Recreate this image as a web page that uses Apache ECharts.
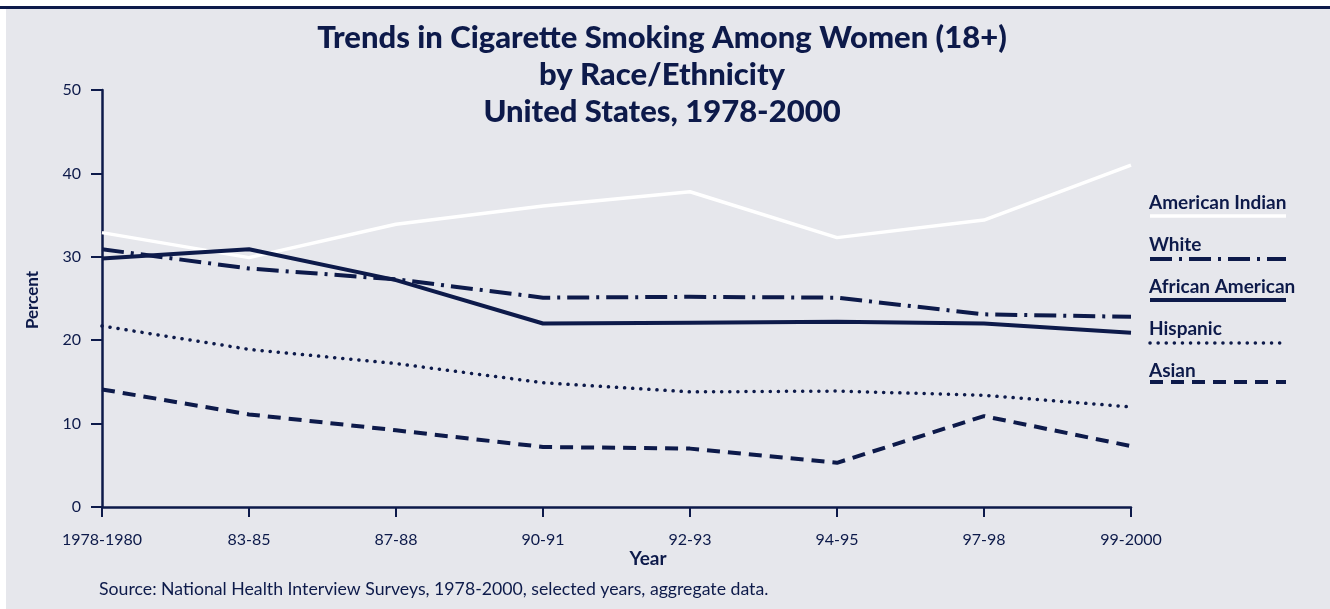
<!DOCTYPE html>
<html>
<head>
<meta charset="utf-8">
<script src="https://cdn.jsdelivr.net/npm/echarts@6/dist/echarts.min.js"></script>
<style>
html,body{margin:0;padding:0;background:#ffffff;}
#chart{width:1330px;height:609px;}
</style>
</head>
<body>
<div id="chart"></div>
<script>
var categories = ['1978-1980','83-85','87-88','90-91','92-93','94-95','97-98','99-2000'];
var americanIndian = [32.9, 29.9, 33.9, 36.1, 37.8, 32.3, 34.4, 41.0];
var white = [30.9, 28.6, 27.3, 25.1, 25.2, 25.1, 23.1, 22.8];
var africanAmerican = [29.8, 30.9, 27.2, 22.0, 22.1, 22.2, 22.0, 20.9];
var hispanic = [21.7, 18.9, 17.2, 14.9, 13.8, 13.9, 13.4, 12.0];
var asian = [14.1, 11.1, 9.2, 7.2, 7.0, 5.3, 10.9, 7.3];
var yTicks = [0, 10, 20, 30, 40, 50];

var NAVY = '#0d1a4a';
var BG = '#e6e7ec';
var FONT = "Lato,'Open Sans',sans-serif";

var seriesDefs = [
  {name:'American Indian', data: americanIndian, style:{color:'#ffffff', width:3.5, type:'solid'}},
  {name:'White', data: white, style:{color:NAVY, width:4, type:[22,7,3,7]}},
  {name:'African American', data: africanAmerican, style:{color:NAVY, width:4, type:'solid'}},
  {name:'Hispanic', data: hispanic, style:{color:NAVY, width:3.5, type:[0.1,8], cap:'round'}},
  {name:'Asian', data: asian, style:{color:NAVY, width:4, type:[13,8]}}
];

var legendTextY = [203, 245, 287, 329, 371];
var legendLineY = [216, 259, 300, 343, 382];

var graphics = [
  {type:'rect', shape:{x:0,y:0,width:1330,height:6}, style:{fill:'#ffffff'}, silent:true},
  {type:'rect', shape:{x:0,y:0,width:6,height:609}, style:{fill:'#ffffff'}, silent:true},
  {type:'rect', shape:{x:0,y:6,width:1330,height:3}, style:{fill:NAVY}, silent:true},
  {type:'text', x:33, y:300, rotation:Math.PI/2, style:{text:'Percent', font:"bold 17px "+FONT, fill:NAVY, align:'center', verticalAlign:'middle'}},
  {type:'text', x:648, y:559, style:{text:'Year', font:"bold 19px "+FONT, fill:NAVY, align:'center', verticalAlign:'middle'}},
  {type:'text', x:99, y:589, style:{text:'Source: National Health Interview Surveys, 1978-2000, selected years, aggregate data.', font:"17.7px "+FONT, fill:NAVY, align:'left', verticalAlign:'middle'}}
];
seriesDefs.forEach(function(s, i){
  graphics.push({type:'text', x:1149, y:legendTextY[i], style:{text:s.name, font:"bold 19px "+FONT, fill:NAVY, align:'left', verticalAlign:'middle'}});
  graphics.push({type:'line', shape:{x1:1150, y1:legendLineY[i], x2:1286, y2:legendLineY[i]},
    style:{stroke:s.style.color, lineWidth:s.style.width, lineDash: (s.style.type==='solid'? null : s.style.type), lineCap: s.style.cap || 'butt'}});
});

var chart = echarts.init(document.getElementById('chart'), null, {renderer:'canvas'});
chart.setOption({
  backgroundColor: BG,
  animation: false,
  title: {
    text: 'Trends in Cigarette Smoking Among Women (18+)\nby Race/Ethnicity\nUnited States, 1978-2000',
    left: 657, top: 14, textAlign: 'center',
    textStyle: {fontFamily: FONT, fontWeight: 900, fontSize: 31, lineHeight: 37, color: NAVY}
  },
  grid: {left: 102, right: 199, top: 90, bottom: 102, containLabel: false},
  xAxis: {
    type: 'category', data: categories, boundaryGap: false,
    axisLine: {lineStyle: {color: NAVY, width: 2.5}},
    axisTick: {show: true, inside: false, length: 10, alignWithLabel: true, lineStyle: {color: NAVY, width: 2}},
    axisLabel: {color: NAVY, fontFamily: FONT, fontSize: 16, margin: 25},
    splitLine: {show: false}
  },
  yAxis: {
    type: 'value', min: 0, max: 50, interval: 10,
    axisLine: {show: true, lineStyle: {color: NAVY, width: 2.5}},
    axisTick: {show: true, inside: false, length: 11, lineStyle: {color: NAVY, width: 2}},
    axisLabel: {color: NAVY, fontFamily: FONT, fontSize: 16, margin: 21,
      formatter: function(v){ return yTicks.indexOf(v) >= 0 ? String(v) : ''; }},
    splitLine: {show: false}
  },
  series: seriesDefs.map(function(s){
    return {
      type: 'line', name: s.name, data: s.data, symbol: 'none', smooth: false,
      lineStyle: {color: s.style.color, width: s.style.width, type: s.style.type, cap: s.style.cap || 'butt'}
    };
  }),
  graphic: graphics
});
</script>
</body>
</html>
